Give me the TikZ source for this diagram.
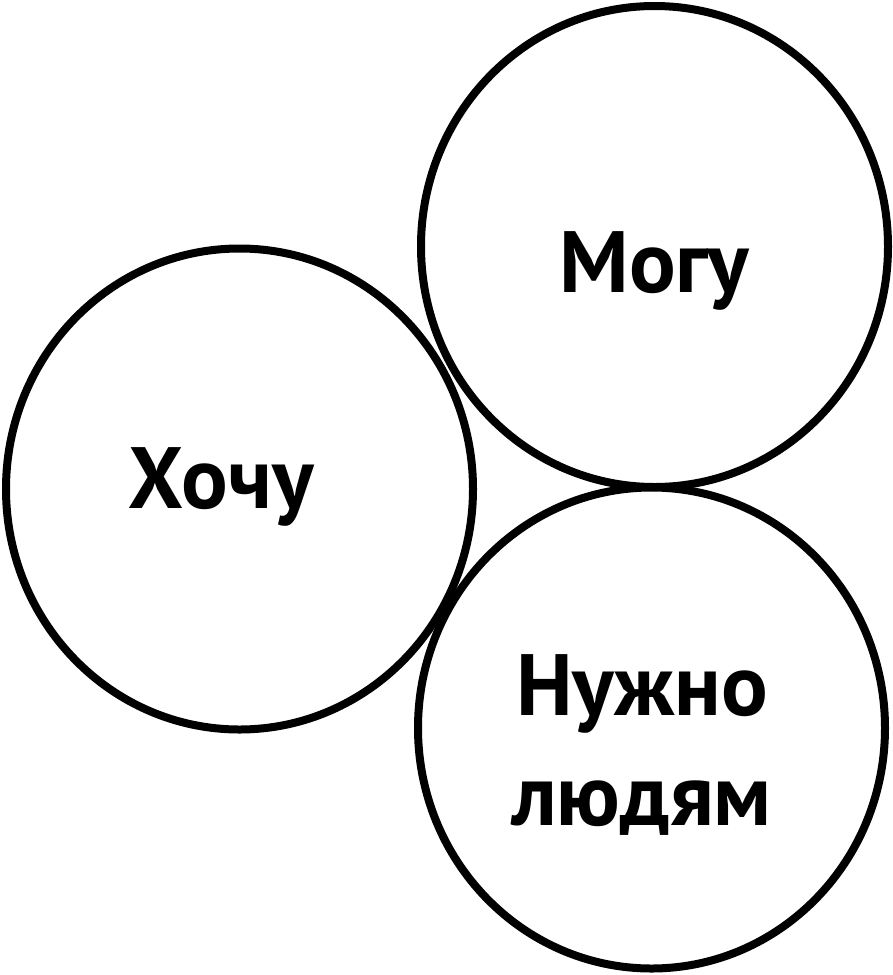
\documentclass[tikz,border=0pt]{standalone}
\usepackage{fontspec}
\setmainfont{PT Sans}
\usepackage{tikz}
\usetikzlibrary{shapes.geometric}

\begin{document}
\begin{tikzpicture}[x=1pt, y=-1pt,
  every node/.style={outer sep=0pt, inner sep=0pt},
  ring/.style={ellipse, draw=black, line width=8pt, minimum width=467pt, minimum height=481pt},
  word/.style={font=\fontsize{87}{110}\selectfont\bfseries, align=center}]
\useasboundingbox (0,0) rectangle (893,975);
\node[ring] (mogu) at (654.5,246.5) {};
\node[ring] (hochu) at (239.5,489) {};
\node[ring] (nuzhno) at (651.5,728) {};

\node[word, anchor=base] (mogutext) at (654,292) {Могу};
\node[word, anchor=base] (hochutext) at (221,508) {Хочу};
\node[word, anchor=base] (nuzhnotext) at (642,715) {Нужно};
\node[word, anchor=base] (lyudyamtext) at (642,825) {людям};
\end{tikzpicture}
\end{document}
